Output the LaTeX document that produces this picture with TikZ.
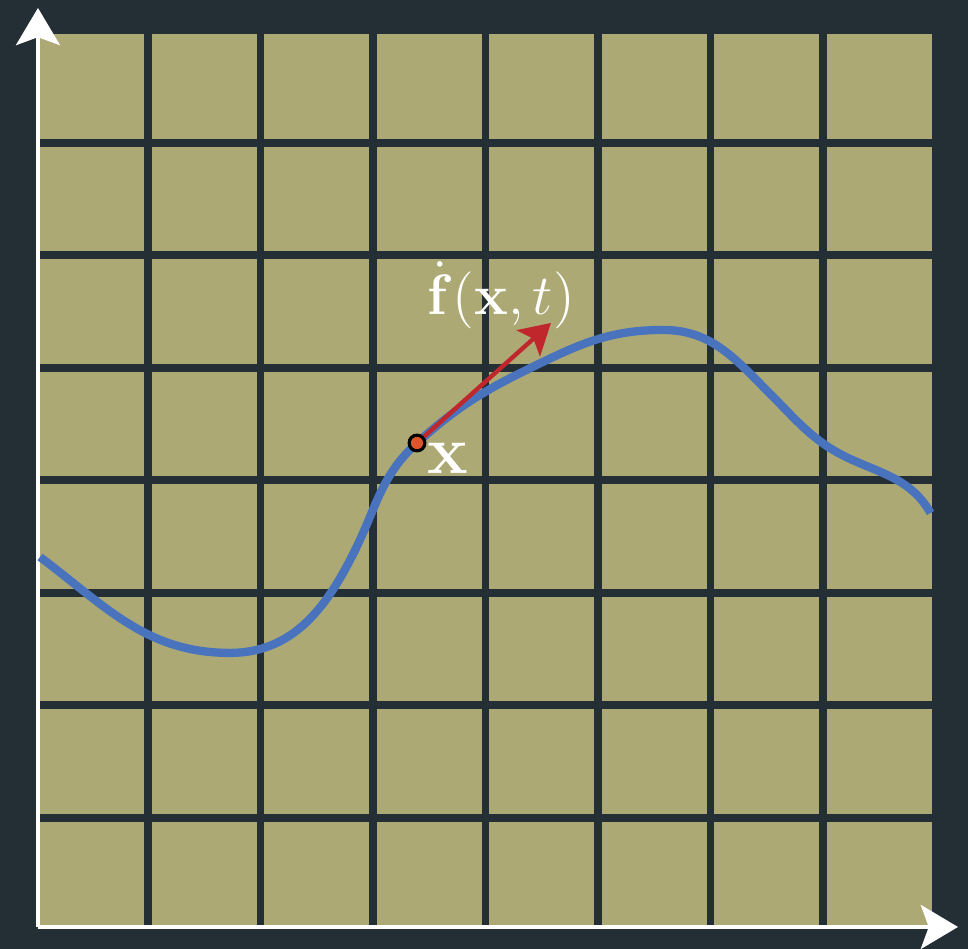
\documentclass[tikz,border=0pt]{standalone}
\usepackage{amssymb}
\usepackage{amsmath}
\usepackage{tikz}
\usetikzlibrary{arrows.meta}
\definecolor{ccDark}{HTML}{232E35}
\definecolor{ccOlive}{HTML}{ADA975}
\definecolor{ccBlue}{HTML}{4A73BE}
\definecolor{ccRed}{HTML}{C0272D}
\definecolor{ccOrange}{HTML}{DD552B}
\colorlet{bgD}{ccDark}
\tikzset{
  gridline/.style={line width=0.071cm, bgD},
  axisline/.style={line width=1pt, white, -{Stealth[length=0.33cm,width=0.39cm,inset=0.07cm]}},
  pointdot/.style={circle, fill=ccOrange, draw=black, line width=0.8pt, inner sep=0pt, minimum size=0.14cm},
  lbl/.style={text=white, inner sep=0pt}
}
\begin{document}
\begin{tikzpicture}
\fill[bgD] (-0.3156,-0.1644) rectangle (8.289,8.271);
\useasboundingbox (-0.3156,-0.1644) rectangle (8.289,8.271);
\fill[ccOlive] (0,0) rectangle (8,8);
\foreach \i in {0,...,8} {
  \draw[gridline] (\i,0) -- (\i,8);
  \draw[gridline] (0,\i) -- (8,\i);
}
\coordinate (o) at (0.022,0.031);
\coordinate (ytip) at (0.022,8.2);
\coordinate (xtip) at (8.2,0.031);
\draw[axisline] (o) -- (ytip);
\draw[axisline] (o) -- (xtip);
\draw[ccBlue, line width=2.1pt] (0.04,3.32) to[out=-37,in=180] (1.729,2.467)
  to[out=0,in=244] (2.85,3.4) to[out=64,in=222] (3.391,4.333)
  to[out=42,in=206] (4.4,5.0) to[out=26,in=180] (5.578,5.338)
  to[out=0,in=135] (6.53,4.77) to[out=-45,in=156] (7.262,4.182)
  to[out=-24,in=120] (7.956,3.711);
\node[pointdot] (pt) at (3.391,4.333) {};
\coordinate (vtip) at (4.582,5.4);
\draw[ccRed, line width=1.1pt, -{Stealth[length=0.27cm,width=0.31cm,inset=0.06cm]}] (pt) -- (vtip);
\node[lbl, font=\fontsize{17}{20}\selectfont] (xl) at (3.667,4.2) {$\mathbf{x}$};
\node[lbl, font=\fontsize{14.5}{17}\selectfont] (fl) at (4.138,5.649) {$\dot{\mathbf{f}}(\mathbf{x},t)$};
\end{tikzpicture}
\end{document}
